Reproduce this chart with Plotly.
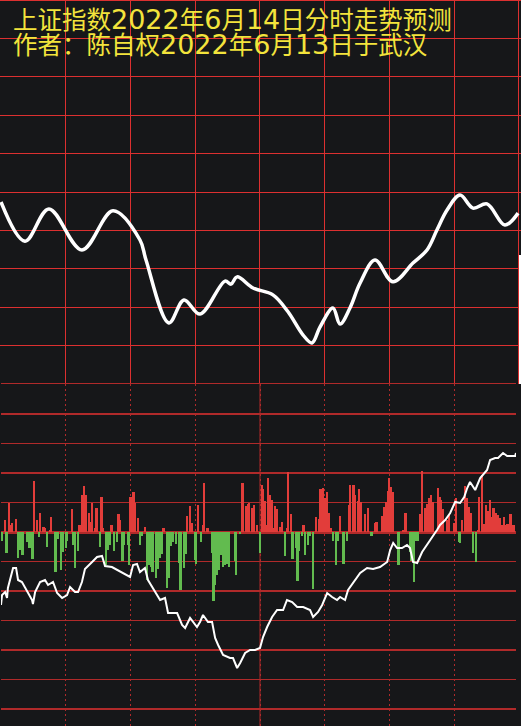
import re
import plotly.graph_objects as go

# ---------------- data ----------------
title_line1 = "上证指数2022年6月14日分时走势预测"
title_line2 = "作者：陈自权2022年6月13日于武汉"

# forecast curve (top panel), minutes since open / grid units
fc_t = [0, 11.1, 22.2, 37.5, 51.9, 64.4, 67.2, 77.8, 84.8, 92.2, 103.8, 106.6, 109.4,
        116.8, 126.0, 133.0, 139.9, 144.1, 147.8, 153.8, 157.1, 161.7, 166.4, 173.3,
        181.6, 190.9, 197.4, 202.0, 206.7, 212.7, 218.7, 225.2, 233.5, 239.6]
fc_v = [4.74, 3.72, 4.56, 3.49, 4.51, 3.75, 3.23, 1.59, 2.19, 1.82, 2.68, 2.60, 2.79,
        2.50, 2.32, 1.88, 1.28, 1.07, 1.48, 1.98, 1.56, 1.98, 2.63, 3.23,
        2.66, 3.15, 3.49, 4.01, 4.53, 4.92, 4.58, 4.69, 4.14, 4.45]

# bars (bottom panel): up (red) and down (green)
up_t = [1.9, 3.9, 4.6, 5.3, 7.0, 15.5, 16.9, 18.3, 19.9, 20.4, 22.7, 23.4, 32.9, 36.4,
        37.8, 38.5, 39.4, 40.8, 41.7, 42.2, 43.6, 44.3, 46.6, 47.3, 51.4, 54.5, 55.1,
        60.2, 61.6, 62.3, 63.7, 66.7, 75.3, 86.2, 87.6, 88.3, 91.3, 93.6, 94.1, 95.7,
        111.7, 112.1, 113.5, 114.5, 114.9, 116.3, 117.2, 118.6, 121.0, 121.4, 122.3,
        123.3, 123.7, 124.7, 125.6, 126.0, 127.0, 127.9, 129.3, 130.2, 132.5, 133.0,
        134.4, 140.2, 146.0, 147.4, 148.1, 149.2, 150.1, 151.1, 152.0, 152.9, 157.1,
        161.3, 161.7, 163.4, 163.8, 165.4, 166.1, 166.8, 168.7, 170.1, 173.3, 174.0,
        176.6, 177.5, 178.4, 179.3, 179.8, 180.7, 181.7, 186.3, 187.5, 194.2, 195.1,
        196.5, 197.4, 198.3, 199.3, 200.2, 202.5, 203.2, 203.9, 204.8, 206.7, 207.6,
        209.9, 210.9, 213.6, 215.0, 216.0, 216.9, 217.8, 221.0, 221.7, 222.9, 223.8,
        224.8, 225.7, 226.6, 227.5, 228.2, 229.4, 230.3, 231.2, 232.2, 233.1, 234.0,
        234.7, 236.1, 236.8, 237.7]
up_v = [12, 29, 7, 9, 13, 51, 12, 19, 5, 4, 2, 15, 23, 7,
        37, 46, 37, 19, 10, 29, 4, 24, 35, 4, 7, 18, 12,
        35, 40, 29, 14, 5, 4, 16, 26, 9, 27, 7, 49, 4,
        8, 49, 26, 28, 29, 24, 27, 7, 47, 43, 31,
        7, 54, 37, 32, 4, 26, 23, 5, 10, 4, 60,
        18, 7, 15, 13, 43, 44, 34, 40, 19, 4, 16,
        27, 47, 47, 37, 31, 43, 30, 18, 24, 9, 10,
        16, 25, 30, 41, 54, 45, 40, 2, 19, 18, 61,
        24, 28, 34, 37, 30, 44, 35, 32, 23, 12, 17,
        9, 34, 12, 46, 34, 25, 19, 2, 35, 57, 8,
        27, 21, 32, 15, 24, 19, 17, 14, 7, 15, 7,
        8, 18, 7, 7]
down_t = [0.5, 2.6, 7.9, 8.8, 10.0, 12.3, 13.4, 14.8, 17.6, 21.3, 25.3, 26.4, 27.8,
          28.7, 30.1, 30.8, 33.8, 34.3, 35.7, 45.9, 48.7, 49.4, 50.7, 52.4, 53.8,
          56.5, 57.2, 58.9, 59.3, 64.4, 65.3, 67.7, 68.6, 69.5, 70.4, 71.8, 72.8,
          73.7, 74.6, 76.9, 77.9, 78.8, 79.7, 81.1, 82.5, 83.2, 84.8, 85.5, 89.9,
          90.4, 92.7, 97.8, 98.5, 99.2, 100.1, 101.0, 102.0, 102.9, 103.8, 104.7,
          105.7, 108.4, 109.1, 110.8, 120.0, 131.6, 135.1, 136.7, 137.4, 138.1,
          139.5, 140.9, 142.3, 143.2, 144.6, 153.9, 155.2, 156.2, 158.7, 160.3,
          171.7, 184.0, 184.2, 189.5, 190.0, 190.9, 191.4, 192.3, 193.0, 212.2,
          212.7, 218.7, 220.1]
down_v = [-9, -21, -26, -18, -23, -10, -16, -27, -5, -15, -40, -7, -38,
          -20, -16, -9, -13, -36, -19, -15, -33, -18, -13, -19, -10,
          -29, -13, -13, -33, -13, -4, -48, -33, -35, -40, -46, -37,
          -26, -22, -56, -46, -14, -10, -12, -31, -58, -36, -22, -28,
          -32, -10, -21, -69, -53, -43, -38, -23, -35, -33, -32,
          -35, -29, -43, -2, -21, -24, -27, -16, -49, -19,
          -4, -23, -13, -4, -57, -9, -33, -9, -32, -9,
          -4, -4, -33, -20, -29, -28, -50, -9, -9, -10,
          -11, -21, -30]

# actual intraday line (bottom panel)
px_t = [0, 0.5, 1.9, 2.8, 3.2, 5.6, 7.0, 7.9, 9.7, 12.1, 14.4, 14.8, 15.8, 18.1, 20.4,
        21.8, 24.1, 26.0, 28.3, 30.6, 32.0, 34.3, 35.7, 37.5, 38.9, 42.2, 44.5, 46.8,
        48.2, 51.4, 53.8, 56.1, 59.8, 61.2, 63.0, 64.4, 66.7, 68.1, 71.4, 73.7, 76.0,
        77.4, 81.6, 83.9, 85.3, 87.6, 90.8, 92.2, 93.6, 95.9, 97.8, 99.2, 100.6, 102.9,
        106.1, 107.5, 109.4, 110.8, 113.1, 115.4, 117.7, 120.0, 121.4, 123.3, 125.6,
        127.9, 130.7, 132.5, 134.9, 137.2, 140.0, 143.2, 144.6, 146.9, 148.8, 151.1,
        153.4, 155.7, 157.1, 159.4, 160.8, 163.1, 166.4, 169.6, 172.4, 175.6, 178.9,
        180.3, 181.7, 183.5, 185.8, 188.1, 189.5, 190.9, 192.8, 195.1, 197.4, 199.7,
        202.0, 203.4, 205.8, 208.1, 210.4, 212.7, 214.6, 216.0, 217.3, 219.7, 222.0,
        225.2, 226.6, 228.9, 230.3, 232.6, 234.5, 238.2, 238.6]
px_v = [-73, -63, -60, -66, -56, -36, -36, -48, -50, -60, -68, -72, -60, -50, -48,
        -53, -50, -61, -66, -63, -55, -60, -60, -50, -37, -30, -25, -24,
        -34, -35, -38, -41, -45, -33, -32, -40, -36, -48, -60, -68, -66,
        -81, -81, -93, -96, -86, -95, -90, -83, -90, -90, -106, -113, -123,
        -126, -126, -136, -131, -121, -118, -118, -116, -105, -95, -85,
        -78, -78, -68, -70, -75, -75, -78, -85, -80, -73, -61,
        -65, -68, -65, -68, -58, -51, -41, -36, -37, -35, -30,
        -18, -11, -16, -16, -13, -16, -30, -31, -20, -13, -5,
        2, 7, 12, 19, 30, 29, 35, 44, 50, 42, 54,
        62, 72, 74, 74, 79, 76, 76, 79]

# ---------------- style ----------------
W, H = 521, 726
BG = "#161719"
TOP_GRID = "#dc3030"
BOT_GRID = "#b02a2a"
RED = "#e23d3a"
GREEN = "#62bb4f"
YELLOW = "#f3e43c"

top_split = 342 / H  # paper y of the boundary between panels

fig = go.Figure()

fig.add_trace(go.Scatter(x=fc_t, y=fc_v, mode="lines", xaxis="x", yaxis="y",
                         line=dict(color="white", width=3.5, shape="spline", smoothing=1.0),
                         hoverinfo="skip", showlegend=False))

fig.add_trace(go.Bar(x=up_t, y=up_v, xaxis="x2", yaxis="y2", width=0.9,
                     marker=dict(color=RED, line=dict(width=0)), showlegend=False))
fig.add_trace(go.Bar(x=down_t, y=down_v, xaxis="x2", yaxis="y2", width=0.9,
                     marker=dict(color=GREEN, line=dict(width=0)), showlegend=False))
fig.add_trace(go.Scatter(x=px_t, y=px_v, mode="lines", xaxis="x2", yaxis="y2",
                         line=dict(color="white", width=2), hoverinfo="skip",
                         showlegend=False))


def wrap_digits(s):
    return re.sub(r"(\d+)",
                  r"<span style='font-family:DejaVu Sans;font-size:27px'>\1</span>", s)


fig.add_annotation(text=wrap_digits(title_line1), xref="paper", yref="paper",
                   x=11 / W, y=1 + 1 / H, xanchor="left", yanchor="top", showarrow=False,
                   font=dict(family="Noto Sans CJK SC", size=24.5, color=YELLOW))
fig.add_annotation(text=wrap_digits(title_line2), xref="paper", yref="paper",
                   x=11 / W, y=1 - 24 / H, xanchor="left", yanchor="top", showarrow=False,
                   font=dict(family="Noto Sans CJK SC", size=24.5, color=YELLOW))

# top border of the upper panel
fig.add_shape(type="line", xref="paper", yref="paper", x0=0, x1=1,
              y0=1 - 0.5 / H, y1=1 - 0.5 / H, line=dict(color=TOP_GRID, width=1),
              layer="below")
# solid centre line in bottom panel
fig.add_shape(type="line", xref="x2", yref="y2 domain", x0=120, x1=120, y0=0, y1=1,
              line=dict(color=BOT_GRID, width=1), layer="below")
# white edge segment at right of top panel
fig.add_shape(type="line", xref="paper", yref="paper", x0=520 / W, x1=520 / W,
              y0=top_split, y1=1 - 255 / H, line=dict(color="white", width=2))

fig.update_layout(
    width=W, height=H, margin=dict(l=0, r=0, t=0, b=0),
    paper_bgcolor=BG, plot_bgcolor=BG, barmode="overlay", bargap=0,
    xaxis=dict(domain=[0, 1], range=[-0.463, 240.96], anchor="y",
               showgrid=True, gridcolor=TOP_GRID, gridwidth=1, dtick=30, tick0=0,
               showticklabels=False, zeroline=False, ticks="", showline=False),
    yaxis=dict(domain=[top_split, 1], range=[0, 10], anchor="x",
               showgrid=True, gridcolor=TOP_GRID, gridwidth=1, dtick=1, tick0=0,
               showticklabels=False, zeroline=False, ticks="", showline=False),
    xaxis2=dict(domain=[1 / W, 516 / W], range=[0, 238.6], anchor="y2",
                showgrid=True, gridcolor=BOT_GRID, gridwidth=1, griddash="2px,3px",
                dtick=30, tick0=0, showticklabels=False, zeroline=False, ticks="",
                showline=True, mirror=True, linecolor=BOT_GRID, linewidth=1),
    yaxis2=dict(domain=[0, top_split], range=[-194, 148], anchor="x2",
                showgrid=True, gridcolor=BOT_GRID, gridwidth=2, dtick=59, tick0=0,
                minor=dict(dtick=29.5, tick0=0, showgrid=True, gridcolor=BOT_GRID,
                           gridwidth=1),
                zeroline=True, zerolinecolor=BOT_GRID, zerolinewidth=3,
                showticklabels=False, ticks="", showline=False),
)

fig.write_html("out.html",
               config={"displayModeBar": False},
               post_script="document.body.style.margin='0';"
                           "document.body.style.overflow='hidden';")
